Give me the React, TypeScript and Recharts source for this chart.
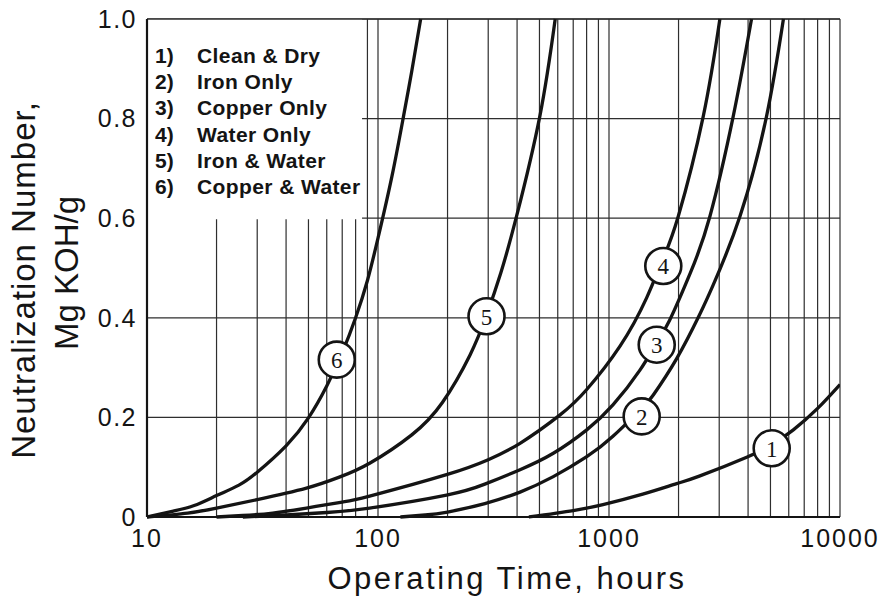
import React from "react";
import {
  LineChart,
  Line,
  XAxis,
  YAxis,
  CartesianGrid,
  ReferenceArea,
  ReferenceLine,
  ReferenceDot,
} from "recharts";

// ---------- data ----------
const X_TICKS = [
  10, 20, 30, 40, 50, 60, 70, 80, 90,
  100, 200, 300, 400, 500, 600, 700, 800, 900,
  1000, 2000, 3000, 4000, 5000, 6000, 7000, 8000, 9000,
  10000,
];
const X_LABELED = [10, 100, 1000, 10000];
const Y_TICKS = [0, 0.2, 0.4, 0.6, 0.8, 1.0];

const LEGEND_NUMBERS = ["1)", "2)", "3)", "4)", "5)", "6)"];
const LEGEND_NAMES = [
  "Clean & Dry",
  "Iron Only",
  "Copper Only",
  "Water Only",
  "Iron & Water",
  "Copper & Water",
];

// 1) Clean & Dry
const cleanDry = [
  { t: 450, v: 0 }, { t: 700, v: 0.013 }, { t: 942, v: 0.025 }, { t: 1400, v: 0.046 },
  { t: 1963, v: 0.067 }, { t: 2460, v: 0.082 }, { t: 3945, v: 0.12 }, { t: 5060, v: 0.145 },
  { t: 6280, v: 0.175 }, { t: 8000, v: 0.218 }, { t: 10000, v: 0.266 },
];
// 2) Iron Only
const ironOnly = [
  { t: 125, v: 0 }, { t: 160, v: 0.004 }, { t: 200, v: 0.01 }, { t: 290, v: 0.027 },
  { t: 412, v: 0.05 }, { t: 574, v: 0.081 }, { t: 801, v: 0.121 }, { t: 1040, v: 0.162 },
  { t: 1385, v: 0.218 }, { t: 1555, v: 0.245 }, { t: 1963, v: 0.318 }, { t: 2460, v: 0.405 },
  { t: 2820, v: 0.465 }, { t: 3690, v: 0.604 }, { t: 4810, v: 0.805 }, { t: 5690, v: 1.0 },
];
// 3) Copper Only
const copperOnly = [
  { t: 26, v: 0 }, { t: 40, v: 0.004 }, { t: 60, v: 0.009 }, { t: 92, v: 0.018 },
  { t: 198, v: 0.044 }, { t: 290, v: 0.066 }, { t: 412, v: 0.095 }, { t: 574, v: 0.128 },
  { t: 801, v: 0.175 }, { t: 1040, v: 0.225 }, { t: 1361, v: 0.295 }, { t: 1609, v: 0.35 },
  { t: 1830, v: 0.395 }, { t: 2250, v: 0.49 }, { t: 2735, v: 0.604 }, { t: 3451, v: 0.805 },
  { t: 4140, v: 1.0 },
];
// 4) Water Only
const waterOnly = [
  { t: 20, v: 0 }, { t: 26, v: 0.003 }, { t: 35, v: 0.008 }, { t: 49, v: 0.018 },
  { t: 70, v: 0.03 }, { t: 92, v: 0.042 }, { t: 198, v: 0.085 }, { t: 300, v: 0.115 },
  { t: 412, v: 0.148 }, { t: 614, v: 0.205 }, { t: 801, v: 0.256 }, { t: 1116, v: 0.343 },
  { t: 1455, v: 0.44 }, { t: 1718, v: 0.52 }, { t: 1995, v: 0.604 }, { t: 2560, v: 0.805 },
  { t: 3020, v: 1.0 },
];
// 5) Iron & Water
const ironWater = [
  { t: 10, v: 0 }, { t: 15, v: 0.008 }, { t: 20, v: 0.018 }, { t: 30, v: 0.035 },
  { t: 49, v: 0.058 }, { t: 68, v: 0.08 }, { t: 92, v: 0.108 }, { t: 140, v: 0.165 },
  { t: 190, v: 0.23 }, { t: 250, v: 0.325 }, { t: 295, v: 0.405 }, { t: 340, v: 0.49 },
  { t: 398, v: 0.604 }, { t: 502, v: 0.805 }, { t: 585, v: 1.0 },
];
// 6) Copper & Water
const copperWater = [
  { t: 10, v: 0 }, { t: 13, v: 0.012 }, { t: 16, v: 0.023 }, { t: 20, v: 0.043 },
  { t: 25, v: 0.064 }, { t: 30, v: 0.09 }, { t: 40, v: 0.143 }, { t: 50, v: 0.199 },
  { t: 60, v: 0.263 }, { t: 70, v: 0.33 }, { t: 80, v: 0.4 }, { t: 90, v: 0.475 },
  { t: 100, v: 0.56 }, { t: 115, v: 0.685 }, { t: 129, v: 0.805 }, { t: 140, v: 0.895 },
  { t: 153, v: 1.0 },
];

const SERIES = [cleanDry, ironOnly, copperOnly, waterOnly, ironWater, copperWater];

// circled curve labels
const CURVE_LABELS = [
  { id: "1", t: 5062, v: 0.138 },
  { id: "2", t: 1385, v: 0.202 },
  { id: "3", t: 1609, v: 0.346 },
  { id: "4", t: 1718, v: 0.504 },
  { id: "5", t: 295, v: 0.403 },
  { id: "6", t: 66.3, v: 0.316 },
];

// legend box extent (data units)
const LEGEND_BOX = { x1: 10, x2: 85.3, y1: 0.598, y2: 1.0 };

const SANS = "'Liberation Sans', Arial, Helvetica, sans-serif";
const SERIF = "'Liberation Serif', 'Times New Roman', serif";
const INK = "#141414";
const GRID = "#2e2e2e";

const W = 887;
const H = 597;

function CircleLabel(props: any) {
  const { cx, cy, id } = props;
  if (cx == null || cy == null) return null;
  return (
    <g>
      <circle cx={cx} cy={cy} r={18} fill="#ffffff" stroke={INK} strokeWidth={2.6} />
      <text
        x={cx}
        y={cy}
        dy="0.36em"
        textAnchor="middle"
        fontFamily={SERIF}
        fontSize={23}
        fill={INK}
      >
        {id}
      </text>
    </g>
  );
}

export default function App() {
  return (
    <div
      style={{
        position: "relative",
        width: W,
        height: H,
        marginLeft: -8,
        marginTop: -8,
        background: "#fff",
      }}
    >
      <LineChart
        width={W}
        height={H}
        margin={{ top: 19, right: 47, bottom: 0, left: 0 }}
      >
        <CartesianGrid stroke={GRID} strokeWidth={1.2} />
        <ReferenceArea
          x1={LEGEND_BOX.x1}
          x2={LEGEND_BOX.x2}
          y1={LEGEND_BOX.y1}
          y2={LEGEND_BOX.y2}
          fill="#ffffff"
          fillOpacity={1}
          stroke="none"
          zIndex={-50}
        />
        <ReferenceLine y={1} stroke={GRID} strokeWidth={1.4} zIndex={-40} />
        {SERIES.map((d, i) => (
          <Line
            key={i}
            data={d}
            dataKey="v"
            type="natural"
            stroke={INK}
            strokeWidth={3.3}
            dot={false}
            activeDot={false}
            isAnimationActive={false}
          />
        ))}
        {CURVE_LABELS.map((l) => (
          <ReferenceDot
            key={l.id}
            x={l.t}
            y={l.v}
            r={18}
            zIndex={1500}
            shape={(p: any) => <CircleLabel cx={p.cx} cy={p.cy} id={l.id} />}
          />
        ))}
        <XAxis
          dataKey="t"
          type="number"
          scale="log"
          domain={[10, 10000]}
          allowDataOverflow
          ticks={X_TICKS}
          interval={0}
          tickFormatter={(t: number) => (X_LABELED.includes(t) ? String(t) : "")}
          tickLine={false}
          tickSize={6}
          tickMargin={6}
          axisLine={{ stroke: INK, strokeWidth: 2.2 }}
          tick={{ fill: INK, fontSize: 25, fontFamily: SANS, letterSpacing: 2 }}
          height={80}
        />
        <YAxis
          type="number"
          domain={[0, 1]}
          ticks={Y_TICKS}
          interval={0}
          tickFormatter={(v: number) => (v === 0 ? "0" : v.toFixed(1))}
          tickLine={false}
          tickSize={6}
          tickMargin={4}
          axisLine={{ stroke: INK, strokeWidth: 2.2 }}
          tick={{ fill: INK, fontSize: 25, fontFamily: SANS, letterSpacing: 1.5 }}
          width={147}
        />
      </LineChart>
      <svg
        width={W}
        height={H}
        style={{ position: "absolute", left: 0, top: 0, pointerEvents: "none" }}
      >
        <text
          x={35}
          y={280}
          transform="rotate(-90 35 280)"
          textAnchor="middle"
          fontFamily={SANS}
          fontSize={33}
          letterSpacing={1}
          fill={INK}
        >
          Neutralization Number,
        </text>
        <text
          x={78}
          y={273}
          transform="rotate(-90 78 273)"
          textAnchor="middle"
          fontFamily={SANS}
          fontSize={33}
          fill={INK}
        >
          Mg KOH/g
        </text>
        <text
          x={507}
          y={589}
          textAnchor="middle"
          fontFamily={SANS}
          fontSize={31}
          letterSpacing={2.5}
          fill={INK}
        >
          Operating Time, hours
        </text>
        {LEGEND_NAMES.map((name, i) => (
          <g key={name}>
            <text
              x={155}
              y={63 + i * 26.2}
              fontFamily={SANS}
              fontWeight="bold"
              fontSize={21}
              fill={INK}
            >
              {LEGEND_NUMBERS[i]}
            </text>
            <text
              x={197}
              y={63 + i * 26.2}
              fontFamily={SANS}
              fontWeight="bold"
              fontSize={21}
              letterSpacing={0.4}
              fill={INK}
            >
              {name}
            </text>
          </g>
        ))}
      </svg>
    </div>
  );
}
